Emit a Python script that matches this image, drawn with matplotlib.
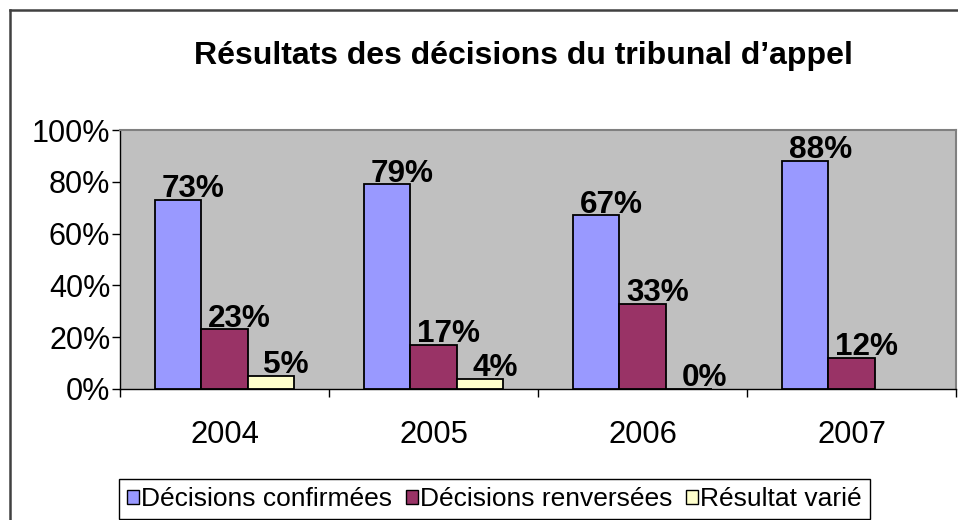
import matplotlib
matplotlib.use("Agg")
import matplotlib.pyplot as plt
from matplotlib.patches import Patch
from matplotlib.lines import Line2D
import numpy as np

plt.rcParams['font.family'] = ['Liberation Sans', 'DejaVu Sans']

# Data
years = ['2004', '2005', '2006', '2007']
confirmees = [73, 79, 67, 88]
renversees = [23, 17, 33, 12]
varie = [5, 4, 0, np.nan]  # no value shown for 2007
series_names = ['Décisions confirmées', 'Décisions renversées', 'Résultat varié']
colors = ['#9999FF', '#993366', '#FFFFCC']

W, H = 958, 520
fig = plt.figure(figsize=(W / 100, H / 100), dpi=100)

# plot area in pixels: x 120..956, y 130..389
ax = fig.add_axes([120 / W, 1 - 389 / H, (956 - 120) / W, (389 - 130) / H])
ax.set_facecolor('#C0C0C0')

x = np.arange(len(years))
bw = 0.2225
for i, (vals, col) in enumerate(zip([confirmees, renversees, varie], colors)):
    xs = x + (i - 1) * bw
    ax.bar(xs, vals, width=bw, color=col, edgecolor='black', linewidth=1.3, zorder=3)
    for xi, v in zip(xs, vals):
        if np.isnan(v):
            continue
        ax.annotate(f"{int(v)}%", (xi, v), xytext=(11, 2), textcoords='offset points',
                    ha='center', va='baseline', fontsize=22.7, fontweight='bold', zorder=4)

ax.set_xlim(-0.5, 3.5)
ax.set_ylim(0, 100)
ax.set_yticks(range(0, 101, 20))
ax.set_yticklabels([f"{v}%" for v in range(0, 101, 20)])
ax.tick_params(axis='y', direction='out', length=6, width=1, pad=1, labelsize=22)

# ticks at category boundaries, labels at centres
ax.set_xticks(np.arange(-0.5, 4, 1))
ax.set_xticklabels([])
ax.set_xticks(x, minor=True)
ax.set_xticklabels(years, minor=True)
ax.tick_params(axis='x', which='major', direction='out', length=6, width=1)
ax.tick_params(axis='x', which='minor', length=0, pad=22, labelsize=22.3)

for s in ['top', 'right']:
    ax.spines[s].set_color('#808080')
    ax.spines[s].set_linewidth(1.5)
for s in ['left', 'bottom']:
    ax.spines[s].set_color('black')
    ax.spines[s].set_linewidth(1)

fig.text(523 / W, 1 - 64 / H, 'Résultats des décisions du tribunal d’appel',
         ha='center', va='baseline', fontsize=23, fontweight='bold')

handles = [Patch(facecolor=c, edgecolor='black', linewidth=1) for c in colors]
leg = fig.legend(handles, series_names, loc='lower left',
                 bbox_to_anchor=(119 / W, 1 / H), ncol=3, fontsize=19,
                 frameon=True, fancybox=False, edgecolor='black', framealpha=1,
                 handlelength=0.45, handleheight=0.45, handletextpad=0.1,
                 columnspacing=0.5, borderpad=0.3, borderaxespad=0)
leg.get_frame().set_linewidth(1)

# outer chart border (cropped on right and bottom)
fig.add_artist(Line2D([10 / W, 1], [1 - 10 / H, 1 - 10 / H], color='#404040', linewidth=1.8))
fig.add_artist(Line2D([10 / W, 10 / W], [1 - 10 / H, 0], color='#404040', linewidth=1.8))

fig.savefig('out.png', dpi=100)
